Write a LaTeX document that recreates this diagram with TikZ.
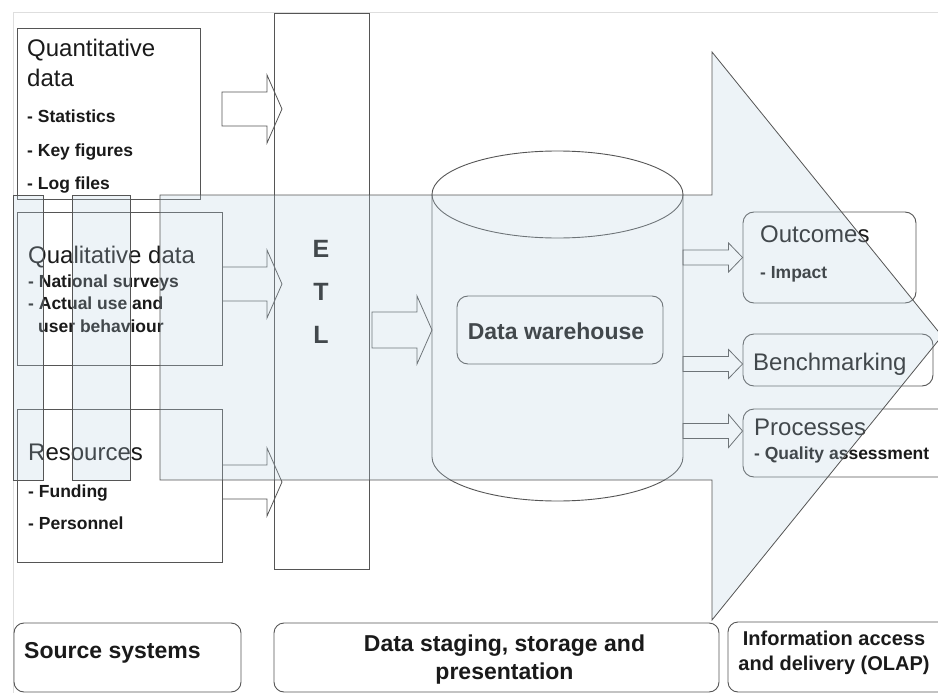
\documentclass[tikz,border=0pt]{standalone}
\usepackage{fontspec}
\setmainfont{Liberation Sans}
\usetikzlibrary{calc}
\definecolor{ln}{HTML}{555555}
\definecolor{ov}{RGB}{187,211,227}
\definecolor{txt}{HTML}{1A1A1A}
\tikzset{
 box/.style={draw=ln, line width=0.9pt, inner sep=0pt},
 rbox/.style={box, rounded corners=11pt},
 ttl/.style={font=\fontsize{24}{28}\selectfont, text=txt, inner sep=0pt, anchor=base west},
 itm/.style={font=\fontsize{17.5}{20}\selectfont\bfseries, text=txt, inner sep=0pt, anchor=base west},
 lab/.style={font=\fontsize{23}{28}\selectfont\bfseries, text=txt, inner sep=0pt, anchor=base},
 lab2/.style={font=\fontsize{20}{24}\selectfont\bfseries, text=txt, inner sep=0pt, anchor=base},
 etltxt/.style={font=\fontsize{25}{28}\selectfont\bfseries, text=txt, inner sep=0pt, anchor=base},
 barr/.style={draw=ln, line width=0.8pt, line join=miter},
 cyl/.style={draw=ln, line width=0.9pt},
 over/.style={fill=ov, fill opacity=0.25, draw=ln, line width=0.8pt},
 pageframe/.style={draw=black!13, line width=0.8pt}
}
% tail, tip, shaft half width, head half width, head length
\newcommand\blockarr[5]{%
 \draw[barr] let \p1=(#1), \p2=(#2) in
 (\x1,\y1+#3pt) -- (\x2-#5pt,\y1+#3pt) -- (\x2-#5pt,\y1+#4pt) -- (\x2,\y1)
 -- (\x2-#5pt,\y1-#4pt) -- (\x2-#5pt,\y1-#3pt) -- (\x1,\y1-#3pt) -- cycle;}
\begin{document}
\begin{tikzpicture}[x=1pt,y=-1pt]
\clip (0,0) rectangle (938,693);
\fill[white] (0,0) rectangle (938,693);
\draw[pageframe] (13,693) -- (13,12) -- (940,12);

% left source boxes
\node[box, minimum width=183pt, minimum height=171pt] (quant) at (108.5,113.5) {};
\node[box, minimum width=205pt, minimum height=153pt] (qual) at (119.5,288.5) {};
\node[box, minimum width=205pt, minimum height=153pt] (res) at (119.5,485.5) {};

\node[ttl] (tq1) at (27,57) {Quantitative};
\node[ttl] (tq2) at (27,87) {data};
\node[itm] (tq3) at (27,122) {- Statistics};
\node[itm] (tq4) at (27,156) {- Key figures};
\node[itm] (tq5) at (27,189) {- Log files};

\node[ttl] (tl1) at (28,263) {Qualitative data};
\node[itm] (tl2) at (28,287) {- National surveys};
\node[itm] (tl3) at (28,309) {- Actual use and};
\node[itm] (tl4) at (38,332) {user behaviour};

\node[ttl] (tr1) at (28,460) {Resources};
\node[itm] (tr2) at (28,497) {- Funding};
\node[itm] (tr3) at (28,529) {- Personnel};

% ETL
\node[box, minimum width=95pt, minimum height=556pt] (etl) at (321.5,291) {};
\node[etltxt] (te) at (321,257) {E};
\node[etltxt] (tt) at (321,300) {T};
\node[etltxt] (tl) at (321,343) {L};

% arrows into ETL
\coordinate (a1s) at (222,109);  \coordinate (a1e) at (282,109);
\coordinate (a2s) at (qual.east |- 0,284); \coordinate (a2e) at (282,284);
\coordinate (a3s) at (res.east |- 0,482);  \coordinate (a3e) at (282,482);
\blockarr{a1s}{a1e}{17}{34}{15}
\blockarr{a2s}{a2e}{17}{34}{15}
\blockarr{a3s}{a3e}{17}{34}{15}

% cylinder
\draw[cyl] (557.5,194.5) ellipse [x radius=125.5pt, y radius=43.5pt];
\draw[cyl] (432,194.5) -- (432,457) arc[start angle=180, end angle=360, x radius=125.5pt, y radius=44pt] -- (683,194.5);
\coordinate (cylw) at (432,330);
\coordinate (cyle) at (683,330);
\node[rbox, minimum width=206pt, minimum height=68pt] (dwh) at (560,330) {};
\node[lab] (tdw) at (556,339) {Data warehouse};

% ETL -> cylinder
\coordinate (a4s) at (372,330);
\blockarr{a4s}{cylw}{18}{34}{15}

% right boxes
\node[rbox, minimum width=173pt, minimum height=91pt] (outc) at (829.5,257.5) {};
\node[rbox, minimum width=190pt, minimum height=52pt] (bench) at (838,360) {};
\node[rbox, minimum width=207pt, minimum height=68pt] (proc) at (846.5,443) {};
\node[ttl] (to1) at (760,242) {Outcomes};
\node[itm] (to2) at (760,278) {- Impact};
\node[ttl] (tb1) at (753,370) {Benchmarking};
\node[ttl] (tp1) at (754,435) {Processes};
\node[itm] (tp2) at (754,459) {- Quality assessment};

% arrows to right boxes
\coordinate (b1s) at (683,257.5); \coordinate (b1e) at (outc.west |- b1s);
\coordinate (b2s) at (683,364);   \coordinate (b2e) at (bench.west |- b2s);
\coordinate (b3s) at (683,431);   \coordinate (b3e) at (proc.west |- b3s);
\blockarr{b1s}{b1e}{7.5}{14.5}{14}
\blockarr{b2s}{b2e}{7.5}{14.5}{14}
\blockarr{b3s}{b3e}{7.5}{16.5}{14}

% bottom labels
\node[rbox, rounded corners=10pt, minimum width=227pt, minimum height=69pt] (src) at (127.5,657.5) {};
\node[rbox, rounded corners=10pt, minimum width=445pt, minimum height=69pt] (stag) at (496.5,657.5) {};
\node[rbox, rounded corners=10pt, minimum width=222pt, minimum height=70pt] (info) at (839,657) {};
\node[lab, anchor=base west] (ts) at (24,658) {Source systems};
\node[lab] (tg1) at (504.5,651) {Data staging, storage and};
\node[lab] (tg2) at (504.5,679) {presentation};
\node[lab2] (ti1) at (834,645) {Information access};
\node[lab2] (ti2) at (834,670) {and delivery (OLAP)};

% big translucent arrow
\path[over] (13,195) -- (43,195) -- (43,480) -- (13,480) -- cycle;
\path[over] (72,195) -- (130,195) -- (130,480) -- (72,480) -- cycle;
\path[over] (160,195) -- (712,195) -- (712,52) -- (942,336) -- (712,620) -- (712,480) -- (160,480) -- cycle;
\end{tikzpicture}
\end{document}
